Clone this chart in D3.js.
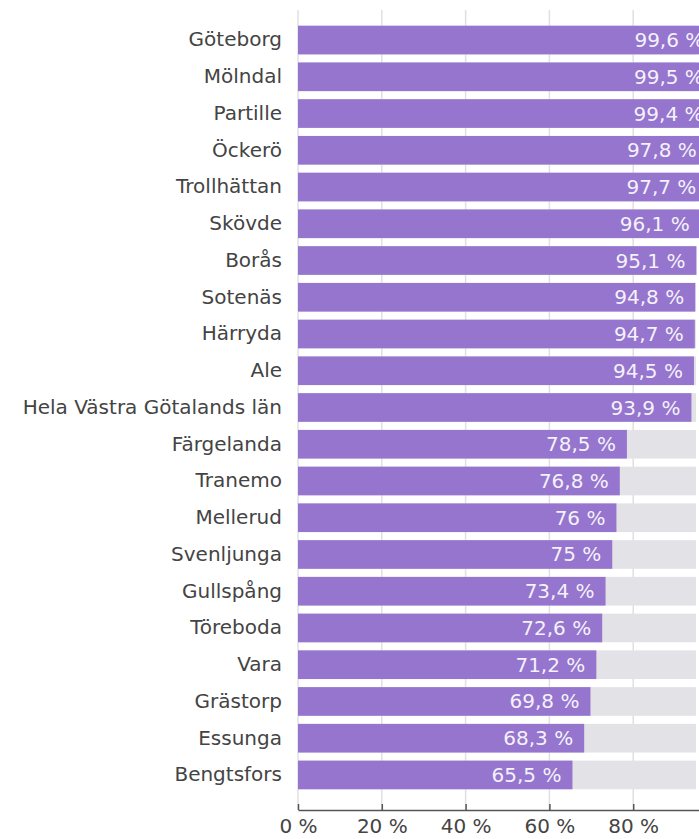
<!DOCTYPE html>
<html>
<head>
<meta charset="utf-8">
<script src="https://cdn.jsdelivr.net/npm/d3@7"></script>
<style>
  body { margin: 0; background: #fff; }
  svg { display: block; font-family: "DejaVu Sans", sans-serif; }
  .tick text { fill: #444; }
</style>
</head>
<body>
<svg id="chart" width="699" height="839"></svg>
<script>
var municipalities = ["Göteborg", "Mölndal", "Partille", "Öckerö", "Trollhättan", "Skövde",
  "Borås", "Sotenäs", "Härryda", "Ale", "Hela Västra Götalands län", "Färgelanda", "Tranemo",
  "Mellerud", "Svenljunga", "Gullspång", "Töreboda", "Vara", "Grästorp", "Essunga", "Bengtsfors"];
var shares = [99.6, 99.5, 99.4, 97.8, 97.7, 96.1, 95.1, 94.8, 94.7, 94.5, 93.9, 78.5, 76.8,
  76, 75, 73.4, 72.6, 71.2, 69.8, 68.3, 65.5];
var target = 95;
var xTicks = [0, 20, 40, 60, 80];

var svg = d3.select("#chart"),
    width = 699,
    height = 839;

var margin = {top: 10, right: -18, bottom: 29, left: 298};
var axisY = height - margin.bottom; // 810

var x = d3.scaleLinear()
    .domain([0, 100])
    .range([margin.left, width - margin.right]);

var y = d3.scaleBand()
    .domain(municipalities)
    .range([18, 797])
    .paddingInner(0.22)
    .paddingOuter(0.21);

var fmt = function(v) { return String(v).replace(".", ",") + " %"; };

// grid
svg.append("g")
    .selectAll("line").data(xTicks).enter().append("line")
    .attr("x1", d => x(d)).attr("x2", d => x(d))
    .attr("y1", margin.top).attr("y2", axisY)
    .attr("stroke", "#e0e0e0")
    .attr("stroke-width", 1.5);

// background bars
svg.append("g")
    .attr("fill", "#e3e2e7")
    .selectAll("rect").data(municipalities).enter().append("rect")
    .attr("x", x(0))
    .attr("y", d => y(d))
    .attr("width", x(target) - x(0))
    .attr("height", y.bandwidth());

// value bars
svg.append("g")
    .attr("fill", "#9575cd")
    .selectAll("rect").data(shares).enter().append("rect")
    .attr("x", x(0))
    .attr("y", (d, i) => y(municipalities[i]))
    .attr("width", d => x(d) - x(0))
    .attr("height", y.bandwidth());

// value labels
svg.append("g")
    .attr("fill", "#f4f1fa")
    .attr("font-size", 20)
    .attr("text-anchor", "end")
    .selectAll("text").data(shares).enter().append("text")
    .attr("x", d => x(d) - 11)
    .attr("y", (d, i) => y(municipalities[i]) + y.bandwidth() / 2)
    .attr("dy", "0.35em")
    .text(fmt);

// y axis
svg.append("g")
    .attr("transform", `translate(${margin.left},0)`)
    .call(d3.axisLeft(y).tickSize(0).tickPadding(16))
    .call(g => g.select(".domain").remove())
    .call(g => g.selectAll("text").attr("font-size", 20).attr("font-family", "DejaVu Sans, sans-serif"));

// x axis, ticks pointing up from the line
svg.append("g")
    .attr("transform", `translate(0,${axisY})`)
    .call(d3.axisBottom(x).tickValues(xTicks).tickSize(-6).tickSizeOuter(0).tickPadding(9).tickFormat(d => d + " %"))
    .call(g => g.select(".domain").attr("stroke", "#555").attr("stroke-width", 1.5))
    .call(g => g.selectAll(".tick line").attr("stroke", "#555").attr("stroke-width", 1.5))
    .call(g => g.selectAll("text").attr("font-size", 20).attr("font-family", "DejaVu Sans, sans-serif"));
</script>
</body>
</html>
